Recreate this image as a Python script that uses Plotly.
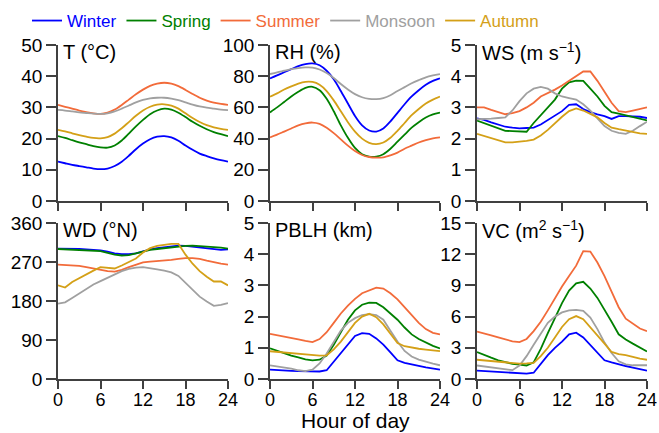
import plotly.graph_objects as go

hours = list(range(25))
seasons = ["Winter", "Spring", "Summer", "Monsoon", "Autumn"]
colors = ["#0000ff", "#008000", "#f26b3a", "#a0a0a0", "#d4a017"]

T = {
    "Winter": [12.6, 12.1, 11.6, 11.2, 10.8, 10.4, 10.2, 10.4, 11.2, 12.6, 14.5, 16.6, 18.4, 19.8, 20.6, 20.8, 20.4, 19.3, 17.8, 16.4, 15.2, 14.4, 13.7, 13.1, 12.6],
    "Spring": [20.8, 20.2, 19.5, 18.8, 18.2, 17.6, 17.2, 17.1, 17.8, 19.4, 21.6, 23.9, 26.0, 27.8, 29.0, 29.6, 29.3, 28.3, 26.9, 25.4, 24.1, 23.0, 22.1, 21.4, 20.8],
    "Summer": [30.8, 30.2, 29.6, 29.0, 28.5, 28.1, 27.9, 28.3, 29.3, 30.8, 32.5, 34.2, 35.7, 36.9, 37.6, 37.9, 37.6, 36.8, 35.6, 34.3, 33.1, 32.2, 31.5, 31.1, 30.8],
    "Monsoon": [29.2, 29.0, 28.7, 28.4, 28.2, 28.0, 27.9, 28.1, 28.7, 29.6, 30.6, 31.6, 32.4, 32.9, 33.1, 33.1, 32.8, 32.3, 31.6, 30.9, 30.3, 29.9, 29.6, 29.3, 29.1],
    "Autumn": [22.8, 22.3, 21.7, 21.1, 20.6, 20.2, 20.1, 20.5, 21.6, 23.3, 25.3, 27.3, 29.0, 30.2, 30.9, 31.0, 30.6, 29.6, 28.1, 26.6, 25.3, 24.3, 23.6, 23.1, 22.8],
}
RH = {
    "Winter": [78.6, 80.5, 82.5, 84.5, 86.5, 87.8, 88.2, 87.0, 83.5, 78.0, 70.5, 62.5, 54.5, 48.5, 45.2, 44.5, 46.5, 51.0, 56.5, 62.0, 67.0, 71.0, 74.5, 77.0, 78.6],
    "Spring": [56.8, 60.0, 63.5, 67.0, 70.0, 72.5, 73.2, 71.0, 65.5, 57.5, 48.5, 40.5, 34.0, 30.0, 28.5, 28.5, 30.0, 33.5, 38.0, 42.5, 47.0, 50.5, 53.5, 55.5, 56.6],
    "Summer": [40.8, 42.5, 44.5, 46.5, 48.5, 49.8, 50.3, 49.5, 47.0, 43.5, 39.5, 35.5, 32.0, 29.5, 28.2, 27.8, 28.0, 29.3, 31.0, 33.5, 35.5, 37.5, 39.0, 40.2, 40.8],
    "Monsoon": [81.4, 82.5, 83.5, 84.5, 85.2, 85.6, 85.5, 84.3, 82.0, 78.8, 75.0, 71.5, 68.5, 66.5, 65.5, 65.3, 66.0, 67.8, 70.5, 73.0, 75.5, 77.5, 79.3, 80.5, 81.4],
    "Autumn": [66.9, 69.0, 71.5, 73.5, 75.3, 76.4, 76.3, 74.5, 70.5, 64.5, 57.5, 50.5, 44.5, 40.0, 37.3, 36.5, 37.5, 40.5, 45.0, 50.0, 55.0, 59.0, 62.5, 65.0, 66.9],
}
WS = {
    "Winter": [2.65, 2.6, 2.52, 2.45, 2.38, 2.35, 2.33, 2.34, 2.35, 2.45, 2.6, 2.75, 2.88, 3.08, 3.1, 2.95, 2.85, 2.78, 2.72, 2.63, 2.72, 2.72, 2.72, 2.7, 2.66],
    "Spring": [2.58, 2.5, 2.42, 2.33, 2.25, 2.24, 2.23, 2.22, 2.5, 2.75, 3.0, 3.25, 3.6, 3.8, 3.86, 3.85, 3.6, 3.35, 3.05, 2.85, 2.8, 2.75, 2.7, 2.65, 2.58],
    "Summer": [3.0, 3.0, 2.92, 2.84, 2.78, 2.82, 2.88, 3.0, 3.15, 3.35, 3.45, 3.57, 3.7, 3.85, 4.0, 4.15, 4.15, 3.85, 3.5, 3.15, 2.88, 2.85, 2.9, 2.95, 3.0],
    "Monsoon": [2.62, 2.62, 2.64, 2.66, 2.68, 2.9, 3.2, 3.45, 3.6, 3.66, 3.6, 3.45, 3.35, 3.3, 3.25, 3.1, 2.9, 2.65, 2.4, 2.25, 2.18, 2.15, 2.25, 2.4, 2.54],
    "Autumn": [2.15, 2.08, 2.0, 1.93, 1.88, 1.88, 1.9, 1.93, 1.97, 2.1, 2.28, 2.5, 2.7, 2.88, 2.97, 2.9, 2.8, 2.68, 2.5, 2.35, 2.3, 2.25, 2.2, 2.17, 2.15],
}
WD = {
    "Winter": [301, 301, 300, 300, 299, 298, 297, 294, 290, 288, 288, 290, 295, 299, 302, 304, 306, 308, 307, 305, 304, 302, 300, 298, 299],
    "Spring": [300, 299, 299, 298, 297, 296, 295, 291, 287, 285, 286, 290, 294, 298, 300, 302, 304, 306, 307, 308, 307, 306, 305, 303, 301],
    "Summer": [264, 263, 262, 261, 258, 255, 252, 249, 248, 252, 258, 264, 269, 271, 272, 273, 275, 277, 279, 279, 277, 273, 269, 266, 264],
    "Monsoon": [174, 177, 187, 198, 209, 218, 226, 234, 242, 249, 254, 257, 258, 256, 253, 250, 246, 238, 222, 205, 190, 179, 169, 171, 175],
    "Autumn": [216, 211, 224, 233, 241, 250, 258, 256, 255, 262, 270, 278, 292, 302, 307, 310, 312, 312, 287, 266, 249, 236, 225, 225, 216],
}
PBLH = {
    "Winter": [0.3, 0.28, 0.27, 0.26, 0.25, 0.24, 0.24, 0.24, 0.28, 0.55, 0.85, 1.12, 1.38, 1.47, 1.45, 1.3, 1.1, 0.85, 0.6, 0.52, 0.46, 0.42, 0.37, 0.33, 0.3],
    "Spring": [0.98, 0.9, 0.82, 0.75, 0.69, 0.63, 0.6, 0.62, 0.75, 1.1, 1.5, 1.9, 2.2, 2.38, 2.45, 2.44, 2.3, 2.1, 1.9, 1.65, 1.43, 1.28, 1.16, 1.06, 0.98],
    "Summer": [1.45, 1.41, 1.37, 1.32, 1.27, 1.22, 1.18, 1.28, 1.5, 1.8, 2.1, 2.35, 2.57, 2.75, 2.85, 2.93, 2.9, 2.75, 2.55, 2.3, 2.02, 1.8, 1.6, 1.48, 1.43],
    "Monsoon": [0.44, 0.41, 0.37, 0.33, 0.28, 0.25, 0.3, 0.5, 0.82, 1.2, 1.55, 1.8, 1.95, 2.05, 2.08, 2.05, 1.9, 1.55, 1.2, 0.9, 0.72, 0.62, 0.55, 0.49, 0.44],
    "Autumn": [0.89, 0.87, 0.84, 0.81, 0.79, 0.77, 0.75, 0.75, 0.76, 0.95, 1.2, 1.5, 1.8, 2.0, 2.09, 1.98, 1.75, 1.45, 1.15, 1.05, 1.0, 0.97, 0.94, 0.91, 0.89],
}
VC = {
    "Winter": [0.8, 0.75, 0.7, 0.65, 0.6, 0.55, 0.52, 0.52, 0.6, 1.5, 2.3, 3.0, 3.6, 4.3, 4.45, 4.0, 3.3, 2.5, 1.8, 1.6, 1.4, 1.25, 1.1, 0.95, 0.8],
    "Spring": [2.6, 2.3, 2.05, 1.8, 1.6, 1.45, 1.38, 1.3, 1.6, 2.9, 4.4, 5.9, 7.3, 8.5, 9.2, 9.35, 8.7, 7.8, 6.7, 5.5, 4.3, 3.8, 3.4, 3.0, 2.65],
    "Summer": [4.55, 4.4, 4.2, 4.0, 3.8, 3.62, 3.55, 3.85, 4.6, 5.5, 6.6, 7.8, 8.9, 9.9, 10.9, 12.3, 12.25, 11.2, 9.9, 8.4, 6.9, 5.8, 5.3, 4.85, 4.6],
    "Monsoon": [1.3, 1.2, 1.1, 1.0, 0.9, 0.85, 1.3, 2.2, 3.3, 4.4, 5.4, 6.0, 6.4, 6.6, 6.65, 6.55, 5.9, 4.8, 3.5, 2.5, 1.7, 1.4, 1.32, 1.32, 1.32],
    "Autumn": [1.85, 1.78, 1.7, 1.62, 1.55, 1.5, 1.48, 1.5, 1.55, 2.2, 3.0, 4.0, 5.0, 5.75, 6.05, 5.75, 5.0, 4.2, 3.4, 2.6, 2.4, 2.3, 2.1, 1.95, 1.85],
}

panels = [
    ("T (°C)", T, [0, 50], [0, 10, 20, 30, 40, 50], "spline"),
    ("RH (%)", RH, [0, 100], [0, 20, 40, 60, 80, 100], "spline"),
    ("WS (m s<sup>−1</sup>)", WS, [0, 5], [0, 1, 2, 3, 4, 5], "linear"),
    ("WD (°N)", WD, [0, 360], [0, 90, 180, 270, 360], "linear"),
    ("PBLH (km)", PBLH, [0, 5], [0, 1, 2, 3, 4, 5], "linear"),
    ("VC (m<sup>2</sup> s<sup>−1</sup>)", VC, [0, 15], [0, 3, 6, 9, 12, 15], "linear"),
]
xticks = [0, 6, 12, 18, 24]

W, H = 659, 433
xdoms = [(58, 228), (270, 440), (477, 647)]
ydoms = [(45, 201), (223, 379)]
axcol = "#404040"
FONT = "Liberation Sans, Arial, sans-serif"

fig = go.Figure()
layout = dict(
    width=W, height=H,
    margin=dict(l=0, r=0, t=0, b=0),
    paper_bgcolor="white", plot_bgcolor="white",
    font=dict(family=FONT, size=18, color="black"),
    showlegend=True,
    legend=dict(orientation="h", x=27 / W, xanchor="left", y=1 - 21 / H, yanchor="middle",
                font=dict(size=17), itemwidth=30, tracegroupgap=0, bgcolor="rgba(0,0,0,0)"),
)
annotations = []
for i, (title, data, yr, yt, shape) in enumerate(panels):
    r, c = divmod(i, 3)
    n = i + 1
    xa = "xaxis" if n == 1 else f"xaxis{n}"
    ya = "yaxis" if n == 1 else f"yaxis{n}"
    xr = "x" if n == 1 else f"x{n}"
    yrf = "y" if n == 1 else f"y{n}"
    x0, x1 = xdoms[c]
    y0, y1 = ydoms[r]
    layout[xa] = dict(domain=[x0 / W, x1 / W], anchor=yrf, range=[0, 24], tickvals=xticks,
                      showticklabels=(r == 1), ticks="outside", ticklen=8, tickwidth=1.5,
                      tickcolor=axcol, showline=True, linecolor=axcol, linewidth=1.5,
                      showgrid=False, zeroline=False, automargin=False,
                      ticklabelstandoff=-4, tickfont=dict(size=18))
    layout[ya] = dict(domain=[1 - y1 / H, 1 - y0 / H], anchor=xr, range=yr, tickvals=yt,
                      ticks="outside", ticklen=10, tickwidth=1.5, tickcolor=axcol,
                      showline=True, linecolor=axcol, linewidth=1.5,
                      showgrid=False, zeroline=False, automargin=False,
                      tickfont=dict(size=19))
    for s, col in zip(seasons, colors):
        fig.add_trace(go.Scatter(
            x=hours, y=data[s], mode="lines", xaxis=xr, yaxis=yrf,
            line=dict(color=col, width=1.8, shape=shape, smoothing=0.8),
            name=f'<span style="color:{col}">{s}</span>',
            legendgroup=s, showlegend=(i == 0),
        ))
    annotations.append(dict(text=title, xref=f"{xr} domain", yref=f"{yrf} domain",
                            x=0.02, y=1 - 7 / (y1 - y0), xanchor="left", yanchor="middle",
                            showarrow=False, font=dict(size=20, color="black")))

annotations.append(dict(text="Hour of day", xref="paper", yref="paper",
                        x=355 / W, y=1 - 420 / H, xanchor="center", yanchor="middle",
                        showarrow=False, font=dict(size=21, color="black")))
layout["annotations"] = annotations
fig.update_layout(**layout)
fig.write_html("out.html", config={"displayModeBar": False},
               post_script="document.body.style.margin='0';document.body.style.padding='0';")
